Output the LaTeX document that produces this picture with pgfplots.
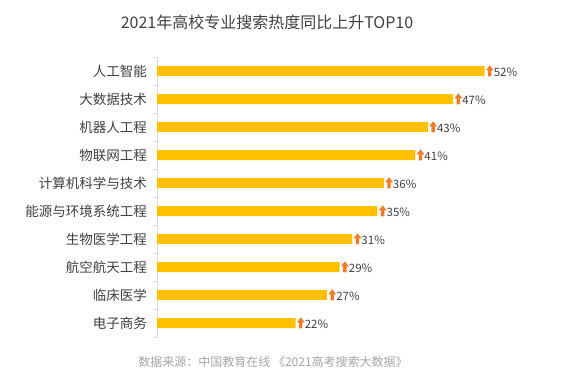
\documentclass[border=0pt]{standalone}
\usepackage{fontspec}
\setmainfont{Noto Sans CJK SC}
\usepackage{pgfplots}
\pgfplotsset{compat=1.18}
\definecolor{barc}{HTML}{FFC000}
\definecolor{arrowc}{HTML}{F47B28}
\definecolor{txt}{HTML}{404040}
\definecolor{src}{HTML}{A6A6A6}
\definecolor{axc}{HTML}{D9D9D9}
\newsavebox\arrbox
\begin{document}
\sbox\arrbox{\tikz[baseline=0pt]\fill[arrowc] (2.3pt,0pt)--(5.7pt,0pt)--(5.7pt,6pt)--(8pt,6pt)--(4pt,11pt)--(0pt,6pt)--(2.3pt,6pt)--cycle;}%
\begin{tikzpicture}[x=1pt,y=1pt]
\path[use as bounding box] (0,0) rectangle (565,376);
\node[text=txt, font=\fontsize{16}{18}\selectfont] at (267,354) {2021年高校专业搜索热度同比上升TOP10};
\node[text=src, font=\fontsize{12}{14}\selectfont] at (273,14) {数据来源：中国教育在线 《2021高考搜索大数据》};
\begin{axis}[at={(157pt,39pt)}, anchor=south west, scale only axis, width=378pt, height=280pt,
 xbar, bar width=10pt, bar shift=0pt,
 xmin=0, xmax=60, ymin=-0.5, ymax=9.5, y dir=reverse,
 hide x axis, axis y line*=left, y axis line style={axc, line width=0.8pt},
 ytick={0,...,9},
 yticklabels={人工智能,大数据技术,机器人工程,物联网工程,计算机科学与技术,能源与环境系统工程,生物医学工程,航空航天工程,临床医学,电子商务},
 major tick length=0pt, minor ytick={-0.5,0.5,...,9.5}, minor tick length=4pt, tick align=outside,
 minor tick style={axc, line width=0.8pt},
 yticklabel style={text=txt, font=\fontsize{13.5}{15}\selectfont, inner sep=0pt, xshift=-10pt},
 point meta=x,
 /pgf/number format/assume math mode=true,
 nodes near coords={\usebox\arrbox\pgfmathprintnumber{\pgfplotspointmeta}\%},
 nodes near coords style={anchor=west, inner sep=1pt, text=txt, font=\fontsize{11.5}{13}\selectfont},
]
\addplot[fill=barc, draw=none] coordinates {(52,0) (47,1) (43,2) (41,3) (36,4) (35,5) (31,6) (29,7) (27,8) (22,9)};
\end{axis}
\end{tikzpicture}
\end{document}
